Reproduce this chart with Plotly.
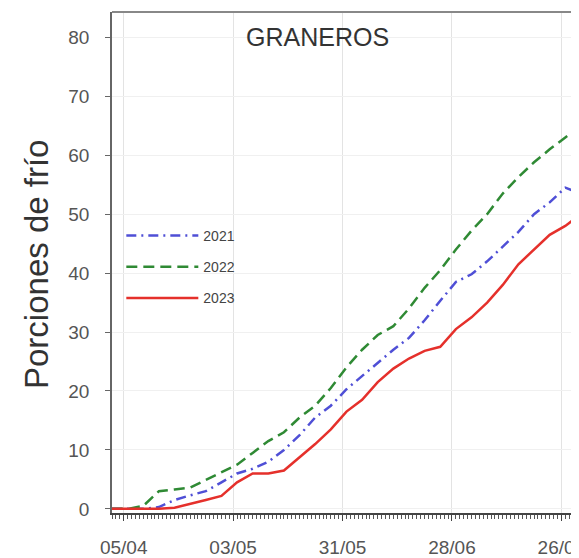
import plotly.graph_objects as go
import pandas as pd

# Dates (day/month) every 4 days, common reference year
dates = pd.to_datetime([
    "2023-04-02", "2023-04-06", "2023-04-10", "2023-04-14", "2023-04-18", "2023-04-22",
    "2023-04-26", "2023-04-30", "2023-05-04", "2023-05-08", "2023-05-12", "2023-05-16",
    "2023-05-20", "2023-05-24", "2023-05-28", "2023-06-01", "2023-06-05", "2023-06-09",
    "2023-06-13", "2023-06-17", "2023-06-21", "2023-06-25", "2023-06-29", "2023-07-03",
    "2023-07-07", "2023-07-11", "2023-07-15", "2023-07-19", "2023-07-23", "2023-07-27",
    "2023-07-29",
])

p2021 = [0, 0, 0, 0.3, 1.5, 2.3, 3, 4.5, 6, 6.8, 8, 10, 12.5, 15.5, 17.5, 20.3, 22.5,
         24.7, 27, 29, 32, 35.3, 38.5, 39.8, 42, 44.5, 47, 50, 52, 54.5, 54]
p2022 = [0, 0, 0.5, 3, 3.3, 3.6, 4.9, 6.2, 7.5, 9.5, 11.5, 13, 15.5, 17.5, 20.5, 24, 27,
         29.5, 31, 34, 37.5, 40.5, 44, 47.2, 50, 53.5, 56.3, 58.8, 61, 63, 64]
p2023 = [0, 0, 0, 0, 0.2, 0.8, 1.5, 2.2, 4.5, 6, 6, 6.5, 8.8, 11, 13.5, 16.5, 18.5, 21.5,
         23.8, 25.5, 26.8, 27.5, 30.5, 32.5, 35, 38, 41.5, 44, 46.5, 48, 49]

tick_dates = pd.to_datetime(["2023-04-05", "2023-05-03", "2023-05-31", "2023-06-28", "2023-07-26"])
tick_labels = ["05/04", "03/05", "31/05", "28/06", "26/07"]
y_ticks = [0, 10, 20, 30, 40, 50, 60, 70, 80]

series = [
    ("2021", p2021, "#4f4fd6", "10px,5px,2px,5px"),
    ("2022", p2022, "#2f8a34", "11px,6px"),
    ("2023", p2023, "#e5302b", "solid"),
]

fig = go.Figure()
for name, vals, col, dash in series:
    fig.add_trace(go.Scatter(
        x=dates, y=vals, mode="lines", name=name, legendgroup=name,
        line=dict(color=col, width=2.5, dash=dash),
    ))

# page body has an 8px margin, so the figure is sized to the remaining window
fig.update_layout(
    width=571, height=550,
    margin=dict(l=104, r=1, t=4, b=45),
    paper_bgcolor="white", plot_bgcolor="white",
    font=dict(family="Liberation Sans, Arial", color="#444"),
    showlegend=True,
    legend=dict(
        x=0.02, y=0.585, xanchor="left", yanchor="top",
        bgcolor="rgba(0,0,0,0)", font=dict(size=14, color="#444"),
        tracegroupgap=10, itemwidth=72,
    ),
    annotations=[
        dict(text="GRANEROS", xref="paper", yref="paper", x=0.442, y=0.95,
             yanchor="middle", showarrow=False, font=dict(size=25, color="#333")),
        dict(text="Porciones de frío", xref="paper", yref="paper", x=-0.162, y=0.496,
             xanchor="center", yanchor="middle", textangle=-90, showarrow=False,
             font=dict(size=33, color="#333")),
    ],
)

fig.update_xaxes(
    range=[pd.Timestamp("2023-04-02"), pd.Timestamp("2023-07-30 06:00")],
    tickvals=tick_dates, ticktext=tick_labels,
    ticks="outside", ticklen=6, tickcolor="#444",
    tickfont=dict(size=19, color="#555"),
    ticklabelstandoff=10, ticklabeloverflow="allow",
    showline=True, linecolor="#444", linewidth=1.5, mirror=False,
    showgrid=True, gridcolor="#e3e3e3", gridwidth=1,
    minor=dict(ticks="outside", ticklen=4, dtick=86400000, tick0="2023-04-05",
               tickcolor="#555", showgrid=False),
    zeroline=False, automargin=False,
)
fig.update_yaxes(
    range=[-0.7, 84.3], tickvals=y_ticks,
    ticks="outside", ticklen=5, tickcolor="#666",
    tickfont=dict(size=19, color="#555"),
    ticklabelposition="outside", ticklabelstandoff=12,
    showline=True, linecolor="#666", linewidth=1.5,
    showgrid=True, gridcolor="#f0f0f0",
    zeroline=False, automargin=False,
)

# frame top and right
fig.add_shape(type="line", xref="paper", yref="paper", x0=0, x1=1, y0=1, y1=1,
              line=dict(color="#888", width=2))
fig.add_shape(type="line", xref="paper", yref="paper", x0=1, x1=1, y0=0, y1=1,
              line=dict(color="#999", width=1.5))

fig.write_html("out.html")
